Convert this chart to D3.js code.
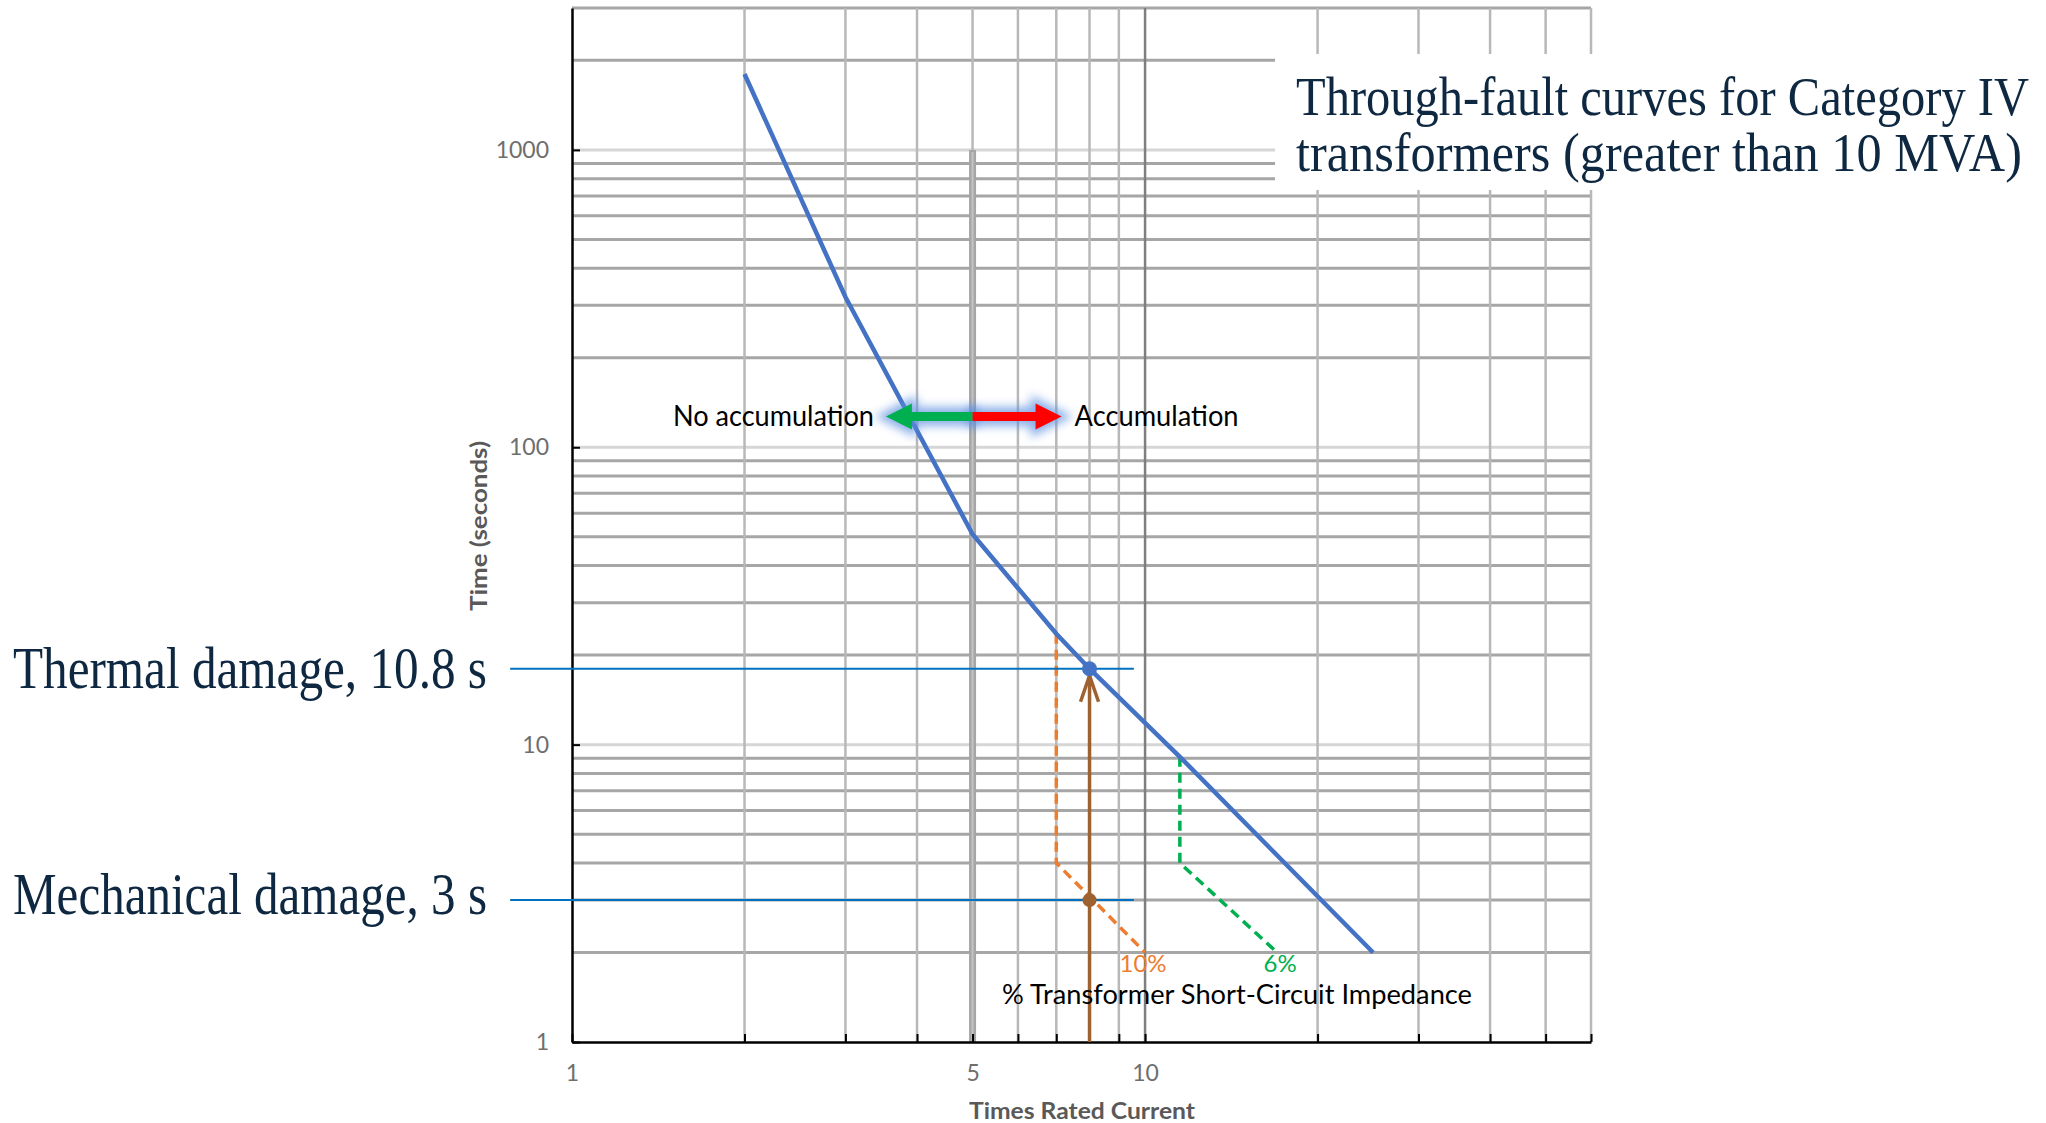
<!DOCTYPE html>
<html>
<head>
<meta charset="utf-8">
<script src="https://cdn.jsdelivr.net/npm/d3@7"></script>
<style>
  body { margin: 0; background: #fff; }
  svg { display: block; }
  .serifText { font-family: "Liberation Serif", "Times New Roman", serif; fill: #0e2841; }
  .sansText { font-family: Lato, "Open Sans", sans-serif; }
  .axisText { font-family: Lato, "Open Sans", sans-serif; font-weight: bold; fill: #595959; }
</style>
</head>
<body>
<div id="chart"></div>
<script>
// values (times rated current / seconds)
var curveX = [2, 3, 5, 7, 8, 11.5, 25];
var curveT = [1800, 320, 51, 23.6, 18, 9.1, 2];
var imp10X = [7, 7, 10];
var imp10T = [23.6, 4, 2];
var imp6X = [11.5, 11.5, 17];
var imp6T = [9.1, 4, 2];
var thermalPoint = [8, 18];
var mechPoint = [8, 3];
var refLineX = [0.78, 9.56];
var accumX = [3.53, 5, 7.15];   // left tip, boundary, right tip
var accumT = 127;
var boundaryT = [1, 1000];
var xTickValues = [1, 5, 10];
var yTickValues = [1, 10, 100, 1000];
var xDomain = [1, 60];
var yDomain = [1, 3000];

var titleLines = ["Through-fault curves for Category IV", "transformers (greater than 10 MVA)"];
var thermalLabel = "Thermal damage, 10.8 s";
var mechLabel = "Mechanical damage, 3 s";

var svgWidth = 2046;
var svgHeight = 1123;
var margin = { top: 8, right: 455, bottom: 81, left: 572 };
var width = svgWidth - margin.left - margin.right;
var height = svgHeight - margin.top - margin.bottom;

var svg = d3.select("#chart")
    .append("svg")
    .attr("width", svgWidth)
    .attr("height", svgHeight);

// blur for the glow round the arrows
var defs = svg.append("defs");
defs.append("filter")
    .attr("id", "glow")
    .attr("x", "-20%").attr("y", "-100%")
    .attr("width", "140%").attr("height", "300%")
    .append("feGaussianBlur")
    .attr("stdDeviation", 5);

var chartGroup = svg.append("g")
    .attr("transform", `translate(${margin.left}, ${margin.top})`);

// scales
var xScale = d3.scaleLog().domain(xDomain).range([0, width]);
var yScale = d3.scaleLog().domain(yDomain).range([height, 0]);

function isDecade(v) {
    var l = Math.log10(v);
    return Math.abs(l - Math.round(l)) < 1e-9;
}

// gridlines
var xGrid = xScale.ticks().filter(d => d > 1);
var yGrid = yScale.ticks().filter(d => d > 1);

chartGroup.selectAll(".hgrid")
    .data(yGrid)
    .enter()
    .append("line")
    .attr("x1", 0)
    .attr("x2", width)
    .attr("y1", d => yScale(d))
    .attr("y2", d => yScale(d))
    .attr("stroke", d => isDecade(d) ? "#d6d6d6" : "#a6a6a6")
    .attr("stroke-width", 3);

chartGroup.selectAll(".vgrid")
    .data(xGrid)
    .enter()
    .append("line")
    .attr("x1", d => xScale(d))
    .attr("x2", d => xScale(d))
    .attr("y1", 0)
    .attr("y2", height)
    .attr("stroke", d => d === 10 ? "#7f7f7f" : "#b8b8b8")
    .attr("stroke-width", 2.5);

// thick boundary line at 5x
chartGroup.append("line")
    .attr("x1", xScale(accumX[1])).attr("x2", xScale(accumX[1]))
    .attr("y1", yScale(boundaryT[1])).attr("y2", yScale(boundaryT[0]))
    .attr("stroke", "#a6a6a6")
    .attr("stroke-width", 7);
chartGroup.append("line")
    .attr("x1", xScale(accumX[1])).attr("x2", xScale(accumX[1]))
    .attr("y1", yScale(boundaryT[1]) + 2).attr("y2", yScale(boundaryT[0]))
    .attr("stroke", "#c4c4c4")
    .attr("stroke-width", 2);

// axes
var leftAxis = d3.axisLeft(yScale)
    .tickValues(yTickValues)
    .tickFormat(d3.format("d"))
    .tickSize(-8)
    .tickSizeOuter(0)
    .tickPadding(23);
var bottomAxis = d3.axisBottom(xScale)
    .tickValues([1].concat(xGrid))
    .tickFormat(d => xTickValues.indexOf(d) >= 0 ? d : "")
    .tickSize(-8)
    .tickSizeOuter(0)
    .tickPadding(23);

var yAxisG = chartGroup.append("g").call(leftAxis);
var xAxisG = chartGroup.append("g")
    .attr("transform", `translate(0, ${height})`)
    .call(bottomAxis);

[yAxisG, xAxisG].forEach(g => {
    g.select(".domain").attr("stroke", "#000").attr("stroke-width", 2.5);
    g.selectAll(".tick line").attr("stroke", "#000").attr("stroke-width", 2);
    g.selectAll(".tick text")
        .attr("class", "sansText")
        .style("font-size", "23px")
        .attr("fill", "#6e6e6e");
});

// white box behind the title
svg.append("rect")
    .attr("x", 1275)
    .attr("y", 54)
    .attr("width", svgWidth - 1275)
    .attr("height", 136)
    .attr("fill", "#fff");

// title
svg.selectAll(".title")
    .data(titleLines)
    .enter()
    .append("text")
    .attr("class", "serifText")
    .attr("x", 1296)
    .attr("y", (d, i) => 115 + i * 56)
    .attr("textLength", (d, i) => i === 0 ? 733 : 726)
    .attr("lengthAdjust", "spacingAndGlyphs")
    .style("font-size", "55px")
    .text(d => d);

// impedance curves (dashed)
var line = d3.line()
    .x(d => xScale(d[0]))
    .y(d => yScale(d[1]));

chartGroup.append("path")
    .datum(d3.zip(imp10X, imp10T))
    .attr("d", line)
    .attr("fill", "none")
    .attr("stroke", "#ed7d31")
    .attr("stroke-width", 3.5)
    .attr("stroke-dasharray", "10,6");

chartGroup.append("path")
    .datum(d3.zip(imp6X, imp6T))
    .attr("d", line)
    .attr("fill", "none")
    .attr("stroke", "#00b050")
    .attr("stroke-width", 3.5)
    .attr("stroke-dasharray", "10,6");

// thermal curve
chartGroup.append("path")
    .datum(d3.zip(curveX, curveT))
    .attr("d", line)
    .attr("fill", "none")
    .attr("stroke", "#4472c4")
    .attr("stroke-width", 4.5);

// reference lines out to the labels
[thermalPoint, mechPoint].forEach(p => {
    chartGroup.append("line")
        .attr("x1", xScale(refLineX[0]))
        .attr("x2", xScale(refLineX[1]))
        .attr("y1", yScale(p[1]))
        .attr("y2", yScale(p[1]))
        .attr("stroke", "#0070c0")
        .attr("stroke-width", 2);
});

// brown arrow up to the thermal point
var bx = xScale(thermalPoint[0]);
var tipY = yScale(thermalPoint[1]) + 7;
chartGroup.append("line")
    .attr("x1", bx).attr("x2", bx)
    .attr("y1", yScale(yDomain[0])).attr("y2", tipY)
    .attr("stroke", "#9e6130")
    .attr("stroke-width", 3.5);
chartGroup.append("path")
    .attr("d", `M${bx - 9},${tipY + 26}L${bx},${tipY}L${bx + 9},${tipY + 26}`)
    .attr("fill", "none")
    .attr("stroke", "#9e6130")
    .attr("stroke-width", 3.5);

chartGroup.append("circle")
    .attr("cx", xScale(mechPoint[0]))
    .attr("cy", yScale(mechPoint[1]))
    .attr("r", 7)
    .attr("fill", "#9e6130");
chartGroup.append("circle")
    .attr("cx", xScale(thermalPoint[0]))
    .attr("cy", yScale(thermalPoint[1]))
    .attr("r", 7.5)
    .attr("fill", "#4472c4");

// accumulation arrows
function arrowPath(x0, x1, y) {
    var dir = x1 > x0 ? 1 : -1;
    var hl = 26, hh = 13, sh = 4.5;
    var xb = x1 - dir * hl;
    return `M${x0},${y - sh}L${xb},${y - sh}L${xb},${y - hh}L${x1},${y}` +
        `L${xb},${y + hh}L${xb},${y + sh}L${x0},${y + sh}Z`;
}
var ay = yScale(accumT);
var arrows = [
    { from: xScale(accumX[1]), to: xScale(accumX[0]), color: "#00b050" },
    { from: xScale(accumX[1]), to: xScale(accumX[2]), color: "#ff0000" }
];
chartGroup.selectAll(".arrowGlow")
    .data(arrows)
    .enter()
    .append("path")
    .attr("d", d => arrowPath(d.from, d.to, ay))
    .attr("fill", "#5b8fe0")
    .attr("stroke", "#5b8fe0")
    .attr("stroke-width", 10)
    .attr("opacity", 0.7)
    .attr("filter", "url(#glow)");
chartGroup.selectAll(".arrow")
    .data(arrows)
    .enter()
    .append("path")
    .attr("d", d => arrowPath(d.from, d.to, ay))
    .attr("fill", d => d.color);

chartGroup.append("text")
    .attr("class", "sansText")
    .attr("x", xScale(accumX[0]) - 12)
    .attr("y", ay + 10)
    .attr("text-anchor", "end")
    .attr("textLength", 201)
    .attr("lengthAdjust", "spacingAndGlyphs")
    .style("font-size", "28px")
    .text("No accumulation");

chartGroup.append("text")
    .attr("class", "sansText")
    .attr("x", xScale(accumX[2]) + 13)
    .attr("y", ay + 10)
    .attr("textLength", 164)
    .attr("lengthAdjust", "spacingAndGlyphs")
    .style("font-size", "28px")
    .text("Accumulation");

// impedance labels
chartGroup.append("text")
    .attr("class", "sansText")
    .attr("x", xScale(imp10X[2]) - 2)
    .attr("y", yScale(imp10T[2]) + 20)
    .attr("text-anchor", "middle")
    .attr("fill", "#ed7d31")
    .style("font-size", "24px")
    .text("10%");

chartGroup.append("text")
    .attr("class", "sansText")
    .attr("x", xScale(imp6X[2]) + 3)
    .attr("y", yScale(imp6T[2]) + 20)
    .attr("text-anchor", "middle")
    .attr("fill", "#00b050")
    .style("font-size", "24px")
    .text("6%");

chartGroup.append("text")
    .attr("class", "sansText")
    .attr("x", 1002 - margin.left)
    .attr("y", yScale(imp10T[2]) + 52)
    .attr("textLength", 470)
    .attr("lengthAdjust", "spacingAndGlyphs")
    .style("font-size", "27px")
    .text("% Transformer Short-Circuit Impedance");

// damage labels on the left
svg.append("text")
    .attr("class", "serifText")
    .attr("x", 487)
    .attr("y", margin.top + yScale(thermalPoint[1]) + 19)
    .attr("text-anchor", "end")
    .attr("textLength", 474)
    .attr("lengthAdjust", "spacingAndGlyphs")
    .style("font-size", "60px")
    .text(thermalLabel);

svg.append("text")
    .attr("class", "serifText")
    .attr("x", 487)
    .attr("y", margin.top + yScale(mechPoint[1]) + 14)
    .attr("text-anchor", "end")
    .attr("textLength", 474)
    .attr("lengthAdjust", "spacingAndGlyphs")
    .style("font-size", "60px")
    .text(mechLabel);

// axis titles
chartGroup.append("text")
    .attr("class", "axisText")
    .attr("transform", "rotate(-90)")
    .attr("x", -(526 - margin.top))
    .attr("y", 479 - margin.left)
    .attr("dy", "0.35em")
    .attr("text-anchor", "middle")
    .attr("textLength", 170)
    .attr("lengthAdjust", "spacingAndGlyphs")
    .style("font-size", "22px")
    .text("Time  (seconds)");

chartGroup.append("text")
    .attr("class", "axisText")
    .attr("x", 1082 - margin.left)
    .attr("y", height + 77)
    .attr("text-anchor", "middle")
    .attr("textLength", 226)
    .attr("lengthAdjust", "spacingAndGlyphs")
    .style("font-size", "23px")
    .text("Times Rated Current");
</script>
</body>
</html>
